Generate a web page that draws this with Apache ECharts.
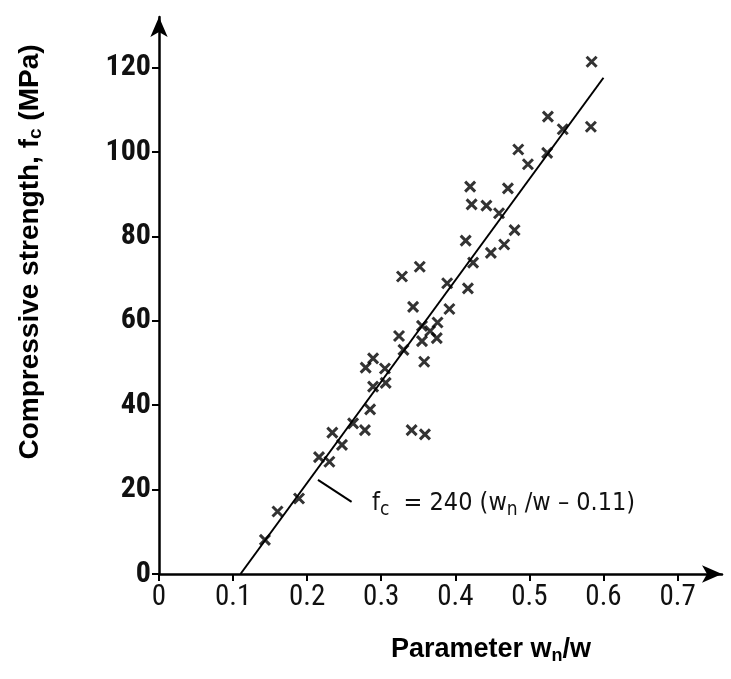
<!DOCTYPE html>
<html>
<head>
<meta charset="utf-8">
<script src="https://cdn.jsdelivr.net/npm/echarts@6/dist/echarts.min.js"></script>
<style>
html,body{margin:0;padding:0;background:#fff;}
#chart{width:731px;height:679px;}
</style>
</head>
<body>
<div id="chart"></div>
<script>
// Measured points: parameter wn/w (x) and compressive strength fc in MPa (y)
const ratioValues = [0.584,0.525,0.545,0.583,0.485,0.524,0.498,0.420,0.471,0.422,0.442,0.459,
  0.480,0.414,0.466,0.448,0.424,0.352,0.328,0.389,0.417,0.343,0.392,0.376,0.355,0.366,0.375,
  0.355,0.324,0.330,0.358,0.289,0.279,0.305,0.289,0.306,0.285,0.262,0.278,0.234,0.247,0.216,
  0.230,0.189,0.160,0.143,0.341,0.359];
const strengthValues = [121.4,108.4,105.4,106.0,100.6,99.8,97.1,91.8,91.4,87.6,87.3,85.5,
  81.5,79.0,78.1,76.1,73.8,72.8,70.5,68.9,67.7,63.3,62.8,59.6,58.8,57.6,55.9,
  55.2,56.4,53.1,50.3,51.1,48.9,48.7,44.4,45.3,39.0,35.7,34.1,33.5,30.6,27.7,
  26.6,17.9,14.8,8.1,34.1,33.1];
// Regression line fc = 240 (wn/w - 0.11), drawn between its end points
const fitX = [0.11, 0.60];
const fitY = [0, 117.6];
// Tick labels
const xTicks = [0,0.1,0.2,0.3,0.4,0.5,0.6,0.7];
const yTicks = [0,20,40,60,80,100,120];
// Annotation leader (data coords) and text anchor
const leaderX = [0.2146, 0.260];
const leaderY = [22.3, 17.1];
const noteAnchor = [0.2875, 16.8];

const points = ratioValues.map((v,i)=>[v, strengthValues[i]]);
const fitData = fitX.map((v,i)=>[v, fitY[i]]);

const tickFont = "'Liberation Sans Narrow','Roboto Condensed','DejaVu Sans Condensed',sans-serif";
const chart = echarts.init(document.getElementById('chart'));
chart.setOption({
  animation:false,
  backgroundColor:'#fff',
  grid:{left:159, right:9, top:17, bottom:105, containLabel:false},
  xAxis:{
    type:'value', min:0, max:0.76,
    axisLine:{show:true, lineStyle:{color:'#000', width:2.5}, symbol:['none','arrow'], symbolSize:[13,20]},
    axisTick:{show:true, length:7, lineStyle:{color:'#000', width:2}, customValues:xTicks},
    axisLabel:{color:'#111', fontFamily:tickFont, fontSize:29, margin:9, customValues:xTicks,
      formatter:v=>String(v)},
    splitLine:{show:false}
  },
  yAxis:{
    type:'value', min:0, max:132,
    axisLine:{show:true, lineStyle:{color:'#000', width:2.5}, symbol:['none','arrow'], symbolSize:[13,20]},
    axisTick:{show:true, length:7, lineStyle:{color:'#000', width:2}, customValues:yTicks},
    axisLabel:{color:'#111', fontFamily:tickFont, fontSize:30, fontWeight:'bold', margin:8, customValues:yTicks},
    splitLine:{show:false}
  },
  series:[
    {
      type:'line', data:fitData, symbol:'none',
      lineStyle:{color:'#000', width:2},
      markLine:{
        silent:true, symbol:['none','none'],
        lineStyle:{color:'#000', width:2, type:'solid'},
        label:{show:false},
        data:[[{coord:[leaderX[0], leaderY[0]]},{coord:[leaderX[1], leaderY[1]]}]]
      }
    },
    {
      type:'scatter', data:points,
      symbol:'path://M0,0L10,10M10,0L0,10', symbolSize:10,
      itemStyle:{color:'rgba(0,0,0,0)', borderColor:'#000', borderWidth:3}
    }
  ]
});

const pos = chart.convertToPixel({gridIndex:0}, noteAnchor);
chart.setOption({
  graphic:[
    {
      type:'text', x:30, y:252, rotation:Math.PI/2,
      style:{
        text:'Compressive strength, f{s|c} (MPa)',
        font:"bold 28px 'Liberation Sans', Arial, sans-serif",
        fill:'#000', align:'center', verticalAlign:'middle',
        rich:{s:{font:"bold 19px 'Liberation Sans', Arial, sans-serif", padding:[11,0,0,0], fill:'#000'}}
      }
    },
    {
      type:'text', x:491, y:650,
      style:{
        text:'Parameter w{s|n}/w',
        font:"bold 27px 'Liberation Sans', Arial, sans-serif",
        fill:'#000', align:'center', verticalAlign:'middle',
        rich:{s:{font:"bold 18px 'Liberation Sans', Arial, sans-serif", padding:[13,0,0,0], fill:'#000'}}
      }
    },
    {
      type:'text', x:pos[0], y:pos[1],
      style:{
        text:'f{s|c}  = 240 (w{s|n} /w – 0.11)',
        font:"25px 'Liberation Sans Narrow','DejaVu Sans Condensed', sans-serif",
        fill:'#111', align:'left', verticalAlign:'middle',
        rich:{s:{font:"19px 'Liberation Sans Narrow','DejaVu Sans Condensed', sans-serif", padding:[14,0,0,0], fill:'#111'}}
      }
    }
  ]
});
</script>
</body>
</html>
